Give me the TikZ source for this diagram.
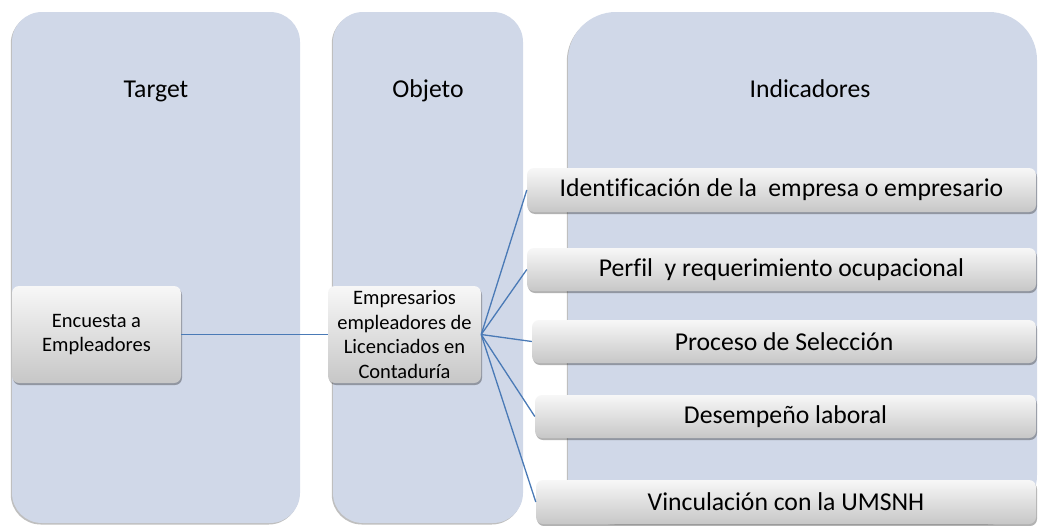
\documentclass[tikz,border=0pt]{standalone}
\usepackage{fontspec}
\setmainfont[Ligatures=NoCommon]{Carlito}
\usetikzlibrary{shadows}
\definecolor{panelc}{RGB}{208,216,232}
\definecolor{linec}{RGB}{74,122,182}
\tikzset{
  panel/.style={fill=panelc, draw=none, inner sep=0pt, drop shadow={shadow xshift=-1.2pt, shadow yshift=-1.5pt, opacity=0.25, fill=black}},
  gbox/.style={rectangle, rounded corners=7pt, top color=white!97!black, bottom color=black!22, draw=none, inner sep=2pt, align=center,
     drop shadow={shadow xshift=1pt, shadow yshift=-2pt, opacity=0.3, fill=black}},
  smalltxt/.style={font=\fontsize{20.5}{24.5}\selectfont},
  bigtxt/.style={font=\fontsize{25.7}{30}\selectfont},
  conn/.style={draw=linec, line width=1.3pt}
}
\begin{document}
\begin{tikzpicture}[x=1pt,y=-1pt]
\useasboundingbox (0,0) rectangle (1039,525);
% panels
\node[panel, rectangle, rounded corners=30pt, minimum width=288pt, minimum height=511pt] (ptarget) at (156,267.5) {};
\node[panel, rectangle, rounded corners=30pt, minimum width=190pt, minimum height=511pt] (pobjeto) at (428,267.5) {};
\node[panel, rectangle, rounded corners=48pt, minimum width=469pt, minimum height=511pt] (pind) at (802.5,267.5) {};
% titles
\node[bigtxt, anchor=base] (ttarget) at (156,97) {Target};
\node[bigtxt, anchor=base] (tobjeto) at (428,97) {Objeto};
\node[bigtxt, anchor=base] (tind) at (810,97) {Indicadores};
% boxes
\node[gbox, smalltxt, minimum width=169pt, minimum height=97pt] (enc) at (96.5,334.5) {Encuesta a\\Empleadores};
\node[gbox, smalltxt, minimum width=153pt, minimum height=97pt] (emp) at (404.5,334.5) {Empresarios\\empleadores de\\Licenciados en\\Contaduría};
\node[gbox, bigtxt, minimum width=509pt, minimum height=44pt] (i1) at (781.5,190) {Identificación de la\ \ empresa o empresario};
\node[gbox, bigtxt, minimum width=509pt, minimum height=43pt] (i2) at (781.5,269.5) {Perfil\ \ y requerimiento ocupacional};
\node[gbox, bigtxt, minimum width=504pt, minimum height=43pt] (i3) at (784,341.5) {Proceso de Selección};
\node[gbox, bigtxt, minimum width=501pt, minimum height=43pt] (i4) at (785.5,416.5) {Desempeño laboral};
\node[gbox, bigtxt, minimum width=500pt, minimum height=44pt] (i5) at (786,502) {Vinculación con la UMSNH};
% connectors
\draw[conn] (enc.east) -- (emp.west);
\draw[conn] (emp.east) -- (i1.west);
\draw[conn] (emp.east) -- (i2.west);
\draw[conn] (emp.east) -- (i3.west);
\draw[conn] (emp.east) -- (i4.west);
\draw[conn] (emp.east) -- (i5.west);
\end{tikzpicture}
\end{document}
